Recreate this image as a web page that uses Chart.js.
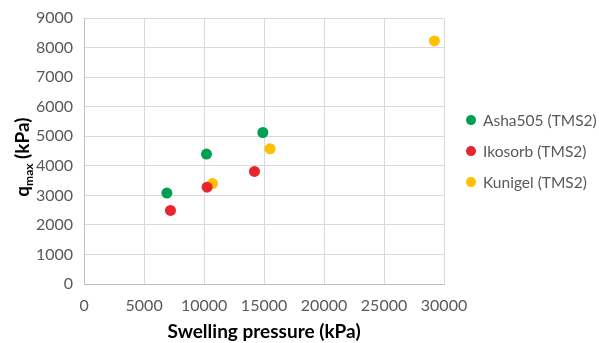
<!DOCTYPE html>
<html>
<head>
<meta charset="utf-8">
<script src="https://cdn.jsdelivr.net/npm/chart.js@4.4.1/dist/chart.umd.min.js"></script>
<style>
  html, body { margin: 0; padding: 0; background: #fff; }
</style>
</head>
<body>
<canvas id="chart" width="599" height="343"></canvas>
<script>
// Series names and point values
const seriesNames = ['Asha505 (TMS2)', 'Ikosorb (TMS2)', 'Kunigel (TMS2)'];
const seriesColors = ['#00A050', '#E8242C', '#FFC000'];

const ashaPressure = [6900, 10200, 14900];
const ashaQmax = [3080, 4400, 5130];
const ikosorbPressure = [7200, 10250, 14200];
const ikosorbQmax = [2490, 3280, 3810];
const kunigelPressure = [10700, 15500, 29200];
const kunigelQmax = [3400, 4580, 8230];

// Axis settings
const xMin = 0, xMax = 30000, xStep = 5000;
const yMin = 0, yMax = 9000, yStep = 1000;

const FONT = 'Lato';

function toPoints(xs, ys) {
    return xs.map((x, i) => ({ x: x, y: ys[i] }));
}

// Draw the y axis title with a subscript ("q" + "max")
const yTitlePlugin = {
    id: 'yTitle',
    afterDraw(chart) {
        const ctx = chart.ctx;
        const area = chart.chartArea;
        ctx.save();
        ctx.translate(29, (area.top + area.bottom) / 2 + 6);
        ctx.rotate(-Math.PI / 2);
        ctx.fillStyle = '#000';
        ctx.textBaseline = 'alphabetic';
        ctx.textAlign = 'left';
        ctx.font = 'bold 19px ' + FONT;
        const w1 = ctx.measureText('q').width;
        ctx.font = 'bold 12px ' + FONT;
        const w2 = ctx.measureText('max').width;
        ctx.font = 'bold 19px ' + FONT;
        const w3 = ctx.measureText(' (kPa)').width;
        let x = -(w1 + w2 + w3) / 2;
        ctx.fillText('q', x, 0);
        x += w1;
        ctx.font = 'bold 12px ' + FONT;
        ctx.fillText('max', x, 4);
        x += w2;
        ctx.font = 'bold 19px ' + FONT;
        ctx.fillText(' (kPa)', x, 0);
        ctx.restore();
    }
};

// Legend on the right, centred on the plot area
const legendPlugin = {
    id: 'sideLegend',
    afterDraw(chart) {
        const ctx = chart.ctx;
        const area = chart.chartArea;
        const sets = chart.data.datasets;
        const rowH = 31;
        const cy = (area.top + area.bottom) / 2;
        const startY = cy - rowH * (sets.length - 1) / 2;
        ctx.save();
        ctx.font = '15.5px ' + FONT;
        ctx.textBaseline = 'middle';
        ctx.textAlign = 'left';
        sets.forEach((ds, i) => {
            const y = startY + i * rowH;
            ctx.beginPath();
            ctx.arc(area.right + 27, y, 5, 0, Math.PI * 2);
            ctx.fillStyle = ds.backgroundColor;
            ctx.fill();
            ctx.fillStyle = '#595959';
            ctx.fillText(ds.label, area.right + 39, y + 1);
        });
        ctx.restore();
    }
};

const ctx = document.getElementById('chart').getContext('2d');
const chart = new Chart(ctx, {
    type: 'scatter',
    data: {
        datasets: [
            { label: seriesNames[0], data: toPoints(ashaPressure, ashaQmax), backgroundColor: seriesColors[0] },
            { label: seriesNames[1], data: toPoints(ikosorbPressure, ikosorbQmax), backgroundColor: seriesColors[1] },
            { label: seriesNames[2], data: toPoints(kunigelPressure, kunigelQmax), backgroundColor: seriesColors[2] }
        ]
    },
    options: {
        responsive: false,
        animation: false,
        elements: {
            point: { radius: 5.5, borderWidth: 0, hoverRadius: 5.5 }
        },
        layout: {
            padding: { left: 25, right: 155, top: 6, bottom: 0 }
        },
        plugins: {
            tooltip: { enabled: false },
            legend: { display: false }
        },
        scales: {
            x: {
                type: 'linear',
                min: xMin,
                max: xMax,
                ticks: {
                    stepSize: xStep,
                    color: '#595959',
                    font: { family: FONT, size: 16 },
                    padding: 12,
                    callback: v => String(v)
                },
                grid: { color: '#D9D9D9', drawTicks: false },
                border: { color: '#BFBFBF' },
                title: {
                    display: true,
                    text: 'Swelling pressure (kPa)',
                    color: '#000',
                    font: { family: FONT, size: 19, weight: 'bold' },
                    padding: { top: -7, bottom: 0 }
                }
            },
            y: {
                min: yMin,
                max: yMax,
                ticks: {
                    stepSize: yStep,
                    color: '#595959',
                    font: { family: FONT, size: 16, lineHeight: 0.9 },
                    padding: 11,
                    callback: v => String(v)
                },
                grid: { color: '#D9D9D9', drawTicks: false },
                border: { color: '#BFBFBF' }
            }
        }
    },
    plugins: [yTitlePlugin, legendPlugin]
});
</script>
</body>
</html>
